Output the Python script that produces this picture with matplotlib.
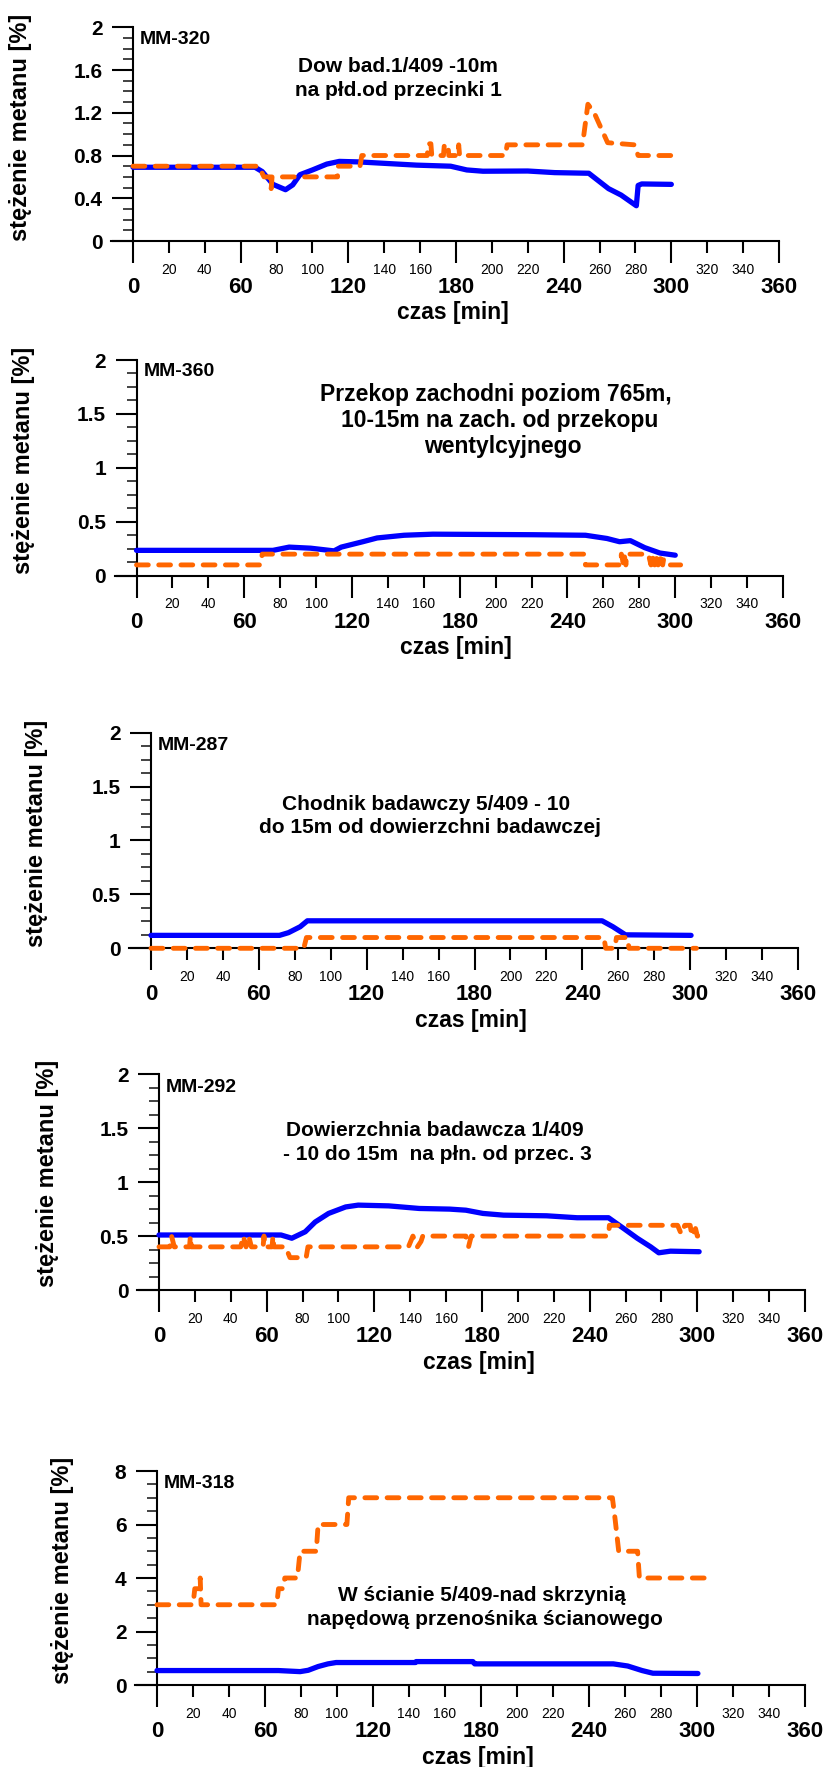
import matplotlib
matplotlib.use('Agg')
import matplotlib.pyplot as plt

plt.rcParams['font.family'] = ['Liberation Sans', 'DejaVu Sans']
plt.rcParams['lines.scale_dashes'] = False

W, H = 825, 1767
BLUE = '#0000FF'
ORANGE = '#FF6600'

# ---- data: time [min] and methane concentration [%] ----
# MM-320
blue1_t = [0, 68, 72, 78, 85, 89, 93, 100, 108, 115, 126, 158, 177, 186, 195, 220, 235, 254, 265, 272, 280.5, 281.5, 283.5, 300]
blue1_v = [0.69, 0.69, 0.65, 0.53, 0.48, 0.525, 0.62, 0.665, 0.72, 0.745, 0.74, 0.71, 0.70, 0.665, 0.653, 0.655, 0.64, 0.634, 0.49, 0.43, 0.33, 0.52, 0.534, 0.53]
orange1_t = [0, 70, 73, 76.5, 77, 77.5, 114, 114, 126.5, 127.5, 164, 164.5, 166, 166.5, 173, 173.5, 175.5, 176, 181, 181.5, 182, 207.5, 208.5, 250.5, 253.5, 257, 264.5, 279.5, 281.5, 302]
orange1_v = [0.7, 0.7, 0.6, 0.6, 0.49, 0.6, 0.6, 0.7, 0.7, 0.8, 0.8, 0.91, 0.91, 0.8, 0.8, 0.9, 0.9, 0.8, 0.8, 0.9, 0.8, 0.8, 0.9, 0.9, 1.28, 1.2, 0.92, 0.9, 0.8, 0.8]

# MM-360
blue2_t = [0, 76, 85, 97, 110, 114, 126, 134, 149, 165, 221, 250, 262, 269, 275, 283, 291.5, 300]
blue2_v = [0.235, 0.235, 0.265, 0.255, 0.23, 0.265, 0.315, 0.35, 0.375, 0.385, 0.38, 0.375, 0.345, 0.315, 0.325, 0.26, 0.21, 0.19]
orange2_t = [0, 69, 70, 249, 250, 269.5, 270, 271, 271.5, 272.5, 273, 276, 285, 286.5, 287, 288.5, 289, 290.5, 291, 293, 293.5, 295, 300, 303]
orange2_v = [0.1, 0.1, 0.2, 0.2, 0.1, 0.1, 0.2, 0.12, 0.2, 0.1, 0.2, 0.2, 0.2, 0.1, 0.2, 0.1, 0.2, 0.1, 0.2, 0.1, 0.15, 0.1, 0.1, 0.1]

# MM-287
blue3_t = [0, 71.5, 76.5, 83, 87, 251, 257, 264, 300.5]
blue3_v = [0.12, 0.12, 0.145, 0.2, 0.255, 0.255, 0.2, 0.125, 0.12]
orange3_t = [0, 85, 86.5, 252, 253, 258, 259, 265, 266, 271.5, 303.5]
orange3_v = [0, 0, 0.1, 0.1, 0, 0, 0.1, 0.1, 0, 0, 0]

# MM-292
blue4_t = [0, 68, 74, 81.5, 87, 94.5, 104, 111, 128, 145, 162, 171, 180.5, 192, 216, 233, 250.5, 259, 266.5, 274, 278.5, 285, 301]
blue4_v = [0.51, 0.51, 0.48, 0.54, 0.63, 0.71, 0.77, 0.787, 0.78, 0.756, 0.75, 0.74, 0.71, 0.694, 0.688, 0.67, 0.67, 0.57, 0.48, 0.40, 0.345, 0.36, 0.355]
orange4_t = [0, 6, 7, 8.5, 17, 17.5, 18, 45.5, 47, 48.5, 50, 51.5, 58, 58.5, 59, 63, 63.5, 64, 70.5, 73, 80, 82, 83,
             139, 141.5, 144, 146, 147, 171, 172.5, 174, 250.5, 251, 289, 291, 293, 296, 297, 299, 300, 304]
orange4_v = [0.4, 0.4, 0.5, 0.4, 0.4, 0.5, 0.4, 0.4, 0.5, 0.4, 0.5, 0.4, 0.4, 0.5, 0.4, 0.4, 0.5, 0.4, 0.4, 0.3, 0.3, 0.3, 0.4,
             0.4, 0.5, 0.4, 0.45, 0.5, 0.5, 0.4, 0.5, 0.5, 0.6, 0.6, 0.52, 0.6, 0.6, 0.5, 0.57, 0.5, 0.5]

# MM-318
blue5_t = [0, 67.5, 79.5, 84, 89.5, 95, 99.5, 143.5, 144, 175.5, 176.5, 253.5, 261.5, 269.5, 275.5, 300.5]
blue5_v = [0.54, 0.54, 0.50, 0.55, 0.69, 0.79, 0.84, 0.84, 0.875, 0.875, 0.79, 0.79, 0.71, 0.54, 0.44, 0.43]
orange5_t = [0, 20, 21, 23.5, 24, 24.5, 66.5, 67.5, 70, 71, 72.5, 78, 79.5, 88.5, 89.5, 105.5, 106.5, 253, 254.5, 256.5, 267, 268, 304]
orange5_v = [3, 3, 3.6, 3.6, 4, 3, 3, 3.6, 3.6, 4, 4, 4, 5, 5, 6, 6, 7, 7, 6.2, 5, 5, 4, 4]

x_major = [0, 60, 120, 180, 240, 300, 360]
x_minor = [20, 40, 80, 100, 140, 160, 200, 220, 260, 280, 320, 340]

yt_a = [0, 0.4, 0.8, 1.2, 1.6, 2]
yl_a = ['0', '0.4', '0.8', '1.2', '1.6', '2']
yt_b = [0, 0.5, 1, 1.5, 2]
yl_b = ['0', '0.5', '1', '1.5', '2']
yt_c = [0, 2, 4, 6, 8]
yl_c = ['0', '2', '4', '6', '8']

fig = plt.figure(figsize=(W / 100, H / 100), dpi=100)


def px_text(x, y, s, **kw):
    fig.text(x / W, 1 - y / H, s, **kw)


def panel(box, ymax, yticks, ylabels, ystep, bt, bv, ot, ov, name, name_xy, lines, fs, ylab_xy):
    x0, x360, y0, ytop = box
    ppm = (x360 - x0) / 360.0
    left = x0 - 12 * ppm
    ax = fig.add_axes([left / W, 1 - y0 / H, (x360 - left) / W, (y0 - ytop) / H])
    ax.set_xlim(-12, 360)
    ax.set_ylim(0, ymax)
    for s in ['top', 'right']:
        ax.spines[s].set_visible(False)
    ax.spines['left'].set_position(('data', 0))
    for s in ['left', 'bottom']:
        ax.spines[s].set_linewidth(1.5)

    ax.plot(bt, bv, color=BLUE, lw=3.8, solid_joinstyle='round', solid_capstyle='round', clip_on=False, zorder=3)
    ax.plot(ot, ov, color=ORANGE, lw=3.5, dashes=(8.5, 7.5), dash_capstyle='round', dash_joinstyle='round',
            clip_on=False, zorder=4)

    ax.set_xticks(x_major)
    ax.set_xticklabels([str(v) for v in x_major])
    ax.set_xticks(x_minor, minor=True)
    ax.set_xticklabels([str(v) for v in x_minor], minor=True)
    ax.set_yticks(yticks)
    ax.set_yticklabels(ylabels)
    nmin = int(round(ymax / ystep))
    ax.set_yticks([i * ystep for i in range(nmin + 1) if i * ystep not in yticks], minor=True)

    ax.tick_params(axis='x', which='major', direction='out', length=16, width=1.5, pad=10, labelsize=16)
    ax.tick_params(axis='x', which='minor', direction='out', length=8.5, width=1.5, pad=7, labelsize=10)
    ax.tick_params(axis='y', which='major', direction='out', length=15, width=1.5, pad=7, labelsize=15)
    ax.tick_params(axis='y', which='minor', direction='out', length=7.5, width=1.2, color='#222222')
    for lab in ax.get_xticklabels() + ax.get_yticklabels():
        lab.set_fontweight('bold')

    px_text(name_xy[0], name_xy[1], name, fontsize=14, fontweight='bold', ha='left', va='center')
    for s, cx, cy in lines:
        px_text(cx, cy, s, fontsize=fs, fontweight='bold', ha='center', va='center')
    px_text(x0 + 178 * ppm, y0 + 72, 'czas [min]', fontsize=16.5, fontweight='bold', ha='center', va='center')
    px_text(ylab_xy[0], ylab_xy[1], 'stężenie metanu [%]', fontsize=17, fontweight='bold',
            ha='center', va='center', rotation=90)
    return ax


panel((133, 779, 241, 27.3), 2, yt_a, yl_a, 0.1, blue1_t, blue1_v, orange1_t, orange1_v,
      'MM-320', (140, 40),
      [('Dow bad.1/409 -10m', 398, 66), ('na płd.od przecinki 1', 398, 90)], 15, (21, 127))

panel((136.5, 783, 575.7, 360), 2, yt_b, yl_b, 0.125, blue2_t, blue2_v, orange2_t, orange2_v,
      'MM-360', (144, 372),
      [('Przekop zachodni poziom 765m,', 496, 395), ('10-15m na zach. od przekopu', 500, 421),
       ('wentylcyjnego', 503, 446)], 16.5, (24, 460))

panel((151, 798, 948.3, 732.7), 2, yt_b, yl_b, 0.125, blue3_t, blue3_v, orange3_t, orange3_v,
      'MM-287', (158, 745),
      [('Chodnik badawczy 5/409 - 10', 426, 804), ('do 15m od dowierzchni badawczej', 430, 827)], 15, (37, 833))

panel((159, 805, 1290, 1074.3), 2, yt_b, yl_b, 0.125, blue4_t, blue4_v, orange4_t, orange4_v,
      'MM-292', (166, 1087),
      [('Dowierzchnia badawcza 1/409', 435, 1130), ('- 10 do 15m  na płn. od przec. 3', 437, 1154)], 15, (48, 1173))

panel((157, 805, 1685, 1471), 8, yt_c, yl_c, 0.5, blue5_t, blue5_v, orange5_t, orange5_v,
      'MM-318', (164, 1483),
      [('W ścianie 5/409-nad skrzynią', 482, 1595), ('napędową przenośnika ścianowego', 485, 1619)], 15, (63, 1570))

fig.savefig('out.png', dpi=100)
